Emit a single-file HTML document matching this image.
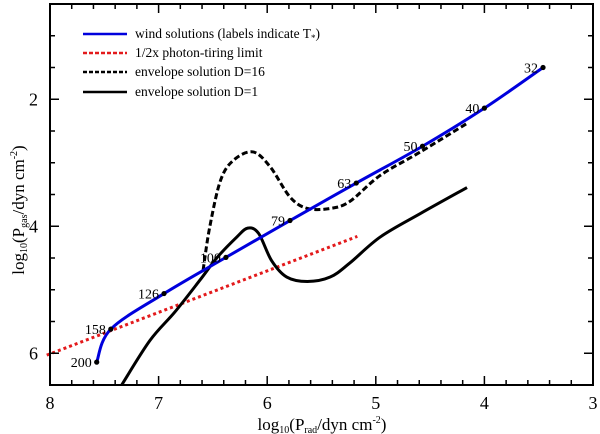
<!DOCTYPE html>
<html><head><meta charset="utf-8"><style>
body{margin:0;background:#fff;}
svg{display:block;font-family:"Liberation Serif",serif;}
</style></head><body>
<svg id="chart" width="600" height="434">
<rect x="0" y="0" width="600" height="434" fill="#fff"/>
<g id="plot"></g>
<g id="axes"></g>
<g id="legend"></g>
</svg>
<script>
const windT = [32, 40, 50, 63, 79, 100, 126, 158, 200];
const windPrad = [3.46, 4.0, 4.57, 5.18, 5.79, 6.38, 6.95, 7.44, 7.57];
const windPgas = [1.50, 2.14, 2.74, 3.32, 3.91, 4.49, 5.06, 5.62, 6.14];
const limitPrad = [8.03, 5.17];
const limitPgas = [6.03, 4.16];
const d1Prad = [7.34, 7.08, 6.85, 6.62, 6.46, 6.28, 6.18, 6.08, 5.96, 5.82, 5.63, 5.42, 5.24, 4.96, 4.59, 4.16];
const d1Pgas = [6.50, 5.80, 5.35, 4.85, 4.49, 4.17, 4.03, 4.11, 4.54, 4.80, 4.87, 4.80, 4.58, 4.17, 3.80, 3.39];
const d16Prad = [6.59, 6.53, 6.43, 6.31, 6.13, 5.97, 5.79, 5.63, 5.42, 5.24, 4.96, 4.59, 4.16];
const d16Pgas = [4.69, 4.02, 3.28, 2.96, 2.83, 3.07, 3.54, 3.72, 3.72, 3.61, 3.20, 2.83, 2.38];
const xTicks = [8, 7, 6, 5, 4, 3];
const yTicks = [2, 4, 6];

const L=50, R=593, T=4, B=385;
const xMin=8, xMax=3, yMin=0.5, yMax=6.5;
const sx = v => L + (v - xMin) / (xMax - xMin) * (R - L);
const sy = v => T + (v - yMin) / (yMax - yMin) * (B - T);
const NS="http://www.w3.org/2000/svg";
function mk(tag, parent, attrs){const e=document.createElementNS(NS,tag);for(const k in attrs)e.setAttribute(k,attrs[k]);parent.appendChild(e);return e;}
function smooth(xs, ys){
  const p = xs.map((x,i)=>[sx(x), sy(ys[i])]);
  let d = `M${p[0][0]},${p[0][1]}`;
  for(let i=0;i<p.length-1;i++){
    const p0=p[Math.max(0,i-1)], p1=p[i], p2=p[i+1], p3=p[Math.min(p.length-1,i+2)];
    const c1=[p1[0]+(p2[0]-p0[0])/6, p1[1]+(p2[1]-p0[1])/6];
    const c2=[p2[0]-(p3[0]-p1[0])/6, p2[1]-(p3[1]-p1[1])/6];
    d += ` C${c1[0]},${c1[1]} ${c2[0]},${c2[1]} ${p2[0]},${p2[1]}`;
  }
  return d;
}
const plot=document.getElementById('plot');
let e;
e=mk('path',plot,{d:smooth(limitPrad,limitPgas),fill:'none',stroke:'#e31a1c','stroke-width':3,'stroke-dasharray':'3,3'});


e=mk('path',plot,{d:smooth(d1Prad,d1Pgas),fill:'none',stroke:'#000','stroke-width':3});


e=mk('path',plot,{d:smooth(d16Prad,d16Pgas),fill:'none',stroke:'#000','stroke-width':3,'stroke-dasharray':'6,3'});


e=mk('path',plot,{d:smooth(windPrad,windPgas),fill:'none',stroke:'#0000dd','stroke-width':3});


windT.forEach((t,i)=>{
  const c=mk('circle',plot,{cx:sx(windPrad[i]),cy:sy(windPgas[i]),r:2.6,fill:'#000'});
  
  
  const tx=mk('text',plot,{x:sx(windPrad[i])-5,y:sy(windPgas[i])+5,'font-size':14,'text-anchor':'end'});
  tx.textContent=t;
  
  
});
const ax=document.getElementById('axes');
e=mk('rect',ax,{x:L,y:T,width:R-L,height:B-T,fill:'none',stroke:'#000','stroke-width':2});


for(let k=0;k<=25;k++){
  const v=8-k*0.2, X=sx(v), major=k%5===0, len=major?9:5;
  mk('line',ax,{x1:X,x2:X,y1:B,y2:B-len,stroke:'#000','stroke-width':1.5});
  mk('line',ax,{x1:X,x2:X,y1:T,y2:T+len,stroke:'#000','stroke-width':1.5});
}
for(let k=1;k<=12;k++){
  const v=k*0.5, Y=sy(v), major=(v%2===0), len=major?9:5;
  mk('line',ax,{x1:L,x2:L+len,y1:Y,y2:Y,stroke:'#000','stroke-width':1.5});
  mk('line',ax,{x1:R,x2:R-len,y1:Y,y2:Y,stroke:'#000','stroke-width':1.5});
}
xTicks.forEach(v=>{
  const t=mk('text',ax,{x:sx(v),y:409,'font-size':18,'text-anchor':'middle'});
  t.textContent=v;
  
  
});
yTicks.forEach(v=>{
  const t=mk('text',ax,{x:38,y:sy(v)+6,'font-size':18,'text-anchor':'end'});
  t.textContent=v;
  
  
});
</script>
<svg style="position:absolute;left:0;top:0" width="600" height="434">
<text x="322" y="430" font-size="17" text-anchor="middle" font-family="Liberation Serif, serif">log<tspan font-size="10" dy="3">10</tspan><tspan dy="-3">(P</tspan><tspan font-size="10" dy="3">rad</tspan><tspan dy="-3">/dyn cm</tspan><tspan font-size="10" dy="-7">-2</tspan><tspan dy="7">)</tspan></text>
<text transform="translate(24,210) rotate(-90)" font-size="17" text-anchor="middle" font-family="Liberation Serif, serif">log<tspan font-size="10" dy="3">10</tspan><tspan dy="-3">(P</tspan><tspan font-size="10" dy="3">gas</tspan><tspan dy="-3">/dyn cm</tspan><tspan font-size="10" dy="-7">-2</tspan><tspan dy="7">)</tspan></text>
<g font-family="Liberation Serif, serif" font-size="13.5">
<g><line x1="83" x2="127" y1="34" y2="34" stroke="#0000dd" stroke-width="2.5"/><text x="135" y="38">wind solutions (labels indicate T<tspan font-size="9" dy="3">*</tspan><tspan dy="-3">)</tspan></text></g>
<g><line x1="83" x2="127" y1="53" y2="53" stroke="#e31a1c" stroke-width="2.5" stroke-dasharray="4,2"/><text x="135" y="57">1/2x photon-tiring limit</text></g>
<g><line x1="83" x2="127" y1="72" y2="72" stroke="#000" stroke-width="2.5" stroke-dasharray="4,2"/><text x="135" y="76">envelope solution D=16</text></g>
<g><line x1="83" x2="127" y1="92" y2="92" stroke="#000" stroke-width="2.5"/><text x="135" y="96">envelope solution D=1</text></g>
</g>
</svg>
</body></html>
